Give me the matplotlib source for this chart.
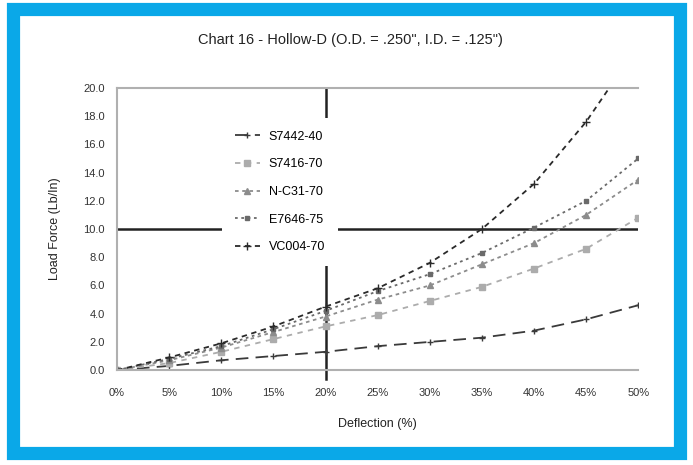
import matplotlib.pyplot as plt
from matplotlib.patches import Rectangle

plt.rcParams["font.family"] = ["Liberation Sans", "DejaVu Sans"]

# deflection (%) and load force per compound
deflection = [0, 5, 10, 15, 20, 25, 30, 35, 40, 45, 50]
s7442_40 = [0, 0.3, 0.7, 1.0, 1.3, 1.7, 2.0, 2.3, 2.8, 3.6, 4.6]
s7416_70 = [0, 0.5, 1.3, 2.2, 3.1, 3.9, 4.9, 5.9, 7.2, 8.6, 10.8]
nc31_70 = [0, 0.7, 1.6, 2.7, 3.8, 5.0, 6.0, 7.5, 9.0, 11.0, 13.5]
e7646_75 = [0, 0.8, 1.7, 2.9, 4.2, 5.6, 6.8, 8.3, 10.1, 12.0, 15.0]
vc004_70 = [0, 0.9, 1.9, 3.1, 4.5, 5.8, 7.6, 10.0, 13.2, 17.6, 23.0]

x_ticks = [0, 5, 10, 15, 20, 25, 30, 35, 40, 45, 50]
y_ticks = [0, 2, 4, 6, 8, 10, 12, 14, 16, 18, 20]

fig = plt.figure(figsize=(6.93, 4.65), dpi=100)

# blue frame around the chart
fig.patches.append(Rectangle((0.019, 0.025), 0.962, 0.955, transform=fig.transFigure,
                             fill=False, edgecolor="#0AA8E8", linewidth=9.5))

ax = fig.add_axes([0.169, 0.204, 0.752, 0.607])

ax.plot(deflection, s7442_40, color="#3a3a3a", linestyle=(0, (7, 4)), linewidth=1.3,
        marker="+", markersize=5, label="S7442-40")
ax.plot(deflection, s7416_70, color="#acacac", linestyle=(0, (3, 3)), linewidth=1.3,
        marker="s", markersize=5, label="S7416-70")
ax.plot(deflection, nc31_70, color="#8c8c8c", linestyle=(0, (2, 2)), linewidth=1.3,
        marker="^", markersize=5, label="N-C31-70")
ax.plot(deflection, e7646_75, color="#6a6a6a", linestyle=(0, (1.5, 2)), linewidth=1.3,
        marker="s", markersize=2.5, label="E7646-75")
ax.plot(deflection, vc004_70, color="#2a2a2a", linestyle=(0, (3, 2.5)), linewidth=1.3,
        marker="+", markersize=6, label="VC004-70")

# reference lines
ax.axhline(10, color="#222222", linewidth=1.8, zorder=1)
ax.axvline(20, ymin=-0.03, ymax=1, color="#222222", linewidth=1.8, zorder=1, clip_on=False)

ax.set_xlim(0, 50)
ax.set_ylim(0, 20)
ax.set_xticks(x_ticks)
ax.set_xticklabels([f"{t}%" for t in x_ticks])
ax.set_yticks(y_ticks)
ax.set_yticklabels([f"{t:.1f}" for t in y_ticks])
ax.tick_params(labelsize=8, length=0, colors="#333333")
ax.tick_params(axis="x", pad=13)
ax.tick_params(axis="y", pad=9)

for side in ["top", "bottom", "left"]:
    ax.spines[side].set_color("#b0b0b0")
    ax.spines[side].set_linewidth(1.5)
ax.spines["right"].set_visible(False)

ax.set_xlabel("Deflection (%)", fontsize=9, color="#222222", labelpad=14)
ax.set_ylabel("Load Force (Lb/In)", fontsize=9, color="#222222", labelpad=16)
fig.text(0.505, 0.915, "Chart 16 - Hollow-D (O.D. = .250\", I.D. = .125\")",
         ha="center", va="center", fontsize=10.5, color="#222222")

leg = ax.legend(loc="upper left", bbox_to_anchor=(0.19, 0.915), fontsize=9,
                frameon=True, facecolor="white", edgecolor="none", framealpha=1,
                handlelength=2.0, handletextpad=0.7, labelspacing=1.25, borderpad=1.0)
leg.set_zorder(5)

fig.savefig("out.png", dpi=100)
